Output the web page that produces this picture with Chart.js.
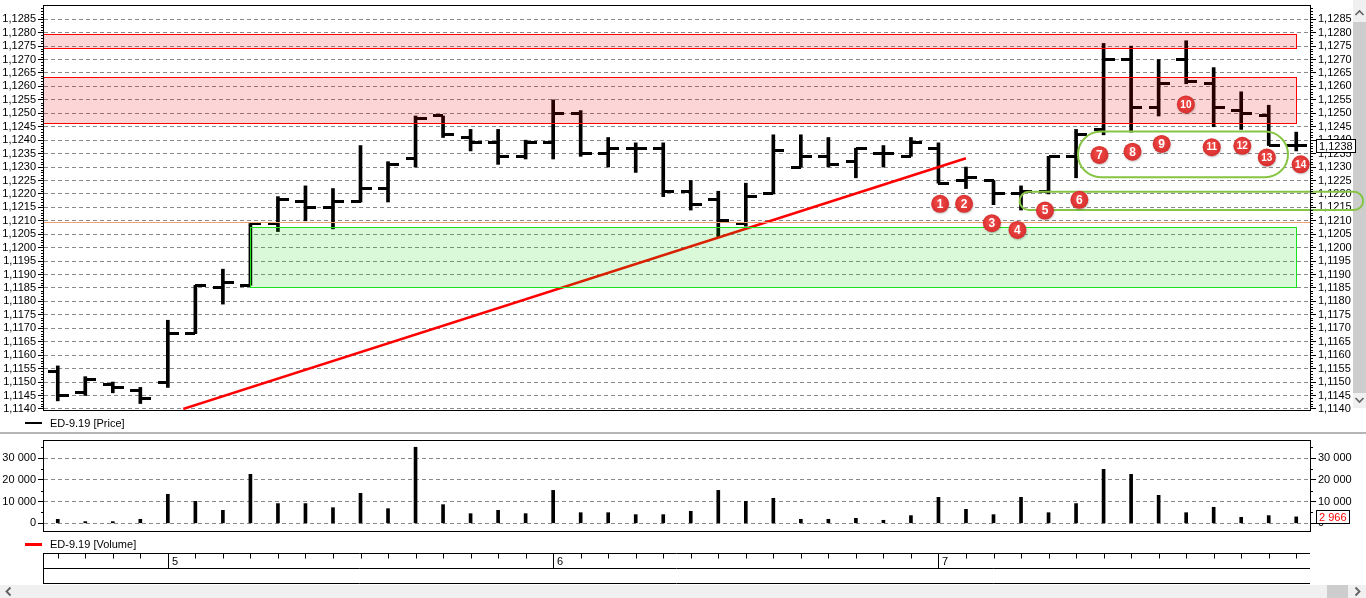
<!DOCTYPE html>
<html><head><meta charset="utf-8">
<script src="https://cdn.jsdelivr.net/npm/chart.js@4.4.1/dist/chart.umd.min.js"></script>
<style>
html,body{margin:0;padding:0;background:#fff;overflow:hidden;}
body{width:1366px;height:598px;position:relative;font-family:"Liberation Sans",Arial,sans-serif;}
.abs{position:absolute;}
#vs{left:1353px;top:0;width:13px;height:408px;background:#f0f0f0;}
#vthumb{left:1353px;top:22px;width:13px;height:371px;background:#cdcdcd;}
#hs{left:0;top:585px;width:1366px;height:13px;background:#f0f0f0;}
#hthumb{left:1327px;top:585px;width:21px;height:13px;background:#cdcdcd;}
#sep{left:0;top:432px;width:1366px;height:2px;background:#b4b4b4;}
#pw{left:0;top:0;width:1366px;height:432px;}
#vw{left:0;top:435px;width:1366px;height:163px;}
</style></head>
<body>
<div id="vs" class="abs"></div>
<div id="vthumb" class="abs"></div>
<svg class="abs" style="left:1353px;top:8px" width="13" height="10"><polyline points="2.5,7 6.5,3 10.5,7" fill="none" stroke="#606060" stroke-width="1.6"/></svg>
<svg class="abs" style="left:1353px;top:395px" width="13" height="10"><polyline points="2.5,3 6.5,7 10.5,3" fill="none" stroke="#606060" stroke-width="1.6"/></svg>
<div id="hs" class="abs"></div>
<div id="hthumb" class="abs"></div>
<svg class="abs" style="left:2px;top:585px" width="13" height="13"><polyline points="8.5,2.5 4.5,6.5 8.5,10.5" fill="none" stroke="#606060" stroke-width="1.8"/></svg>
<svg class="abs" style="left:1351px;top:585px" width="13" height="13"><polyline points="4.5,2.5 8.5,6.5 4.5,10.5" fill="none" stroke="#606060" stroke-width="1.8"/></svg>
<div id="sep" class="abs"></div>
<div id="pw" class="abs"><canvas id="pc" width="1366" height="432"></canvas></div>
<div id="vw" class="abs"><canvas id="vc" width="1366" height="163"></canvas></div>
<script>
// ---------------- data ----------------
const seriesName = 'ED-9.19';
const opens  = [1.1154,1.1146,1.1149,1.1147,1.1150,1.1168,1.1185,1.1186,1.1209,1.1217,1.1215,1.1217,1.1222,1.1233,1.1249,1.1241,1.1239,1.1234,1.1239,1.1250,1.1235,1.1237,1.1237,1.1221,1.1218,1.1209,1.1220,1.1230,1.1234,1.1232,1.1235,1.1234,1.1237,1.1225,1.1225,1.1220,1.1221,1.1234,1.1244,1.1270,1.1252,1.1270,1.1261,1.1251,1.1249,1.1238];
const highs  = [1.1156,1.1152,1.1150,1.1148,1.1173,1.1186,1.1192,1.1209,1.1219,1.1223,1.1222,1.1238,1.1232,1.1249,1.1249,1.1244,1.1244,1.1240,1.1255,1.1251,1.1241,1.1239,1.1239,1.1225,1.1221,1.1224,1.1242,1.1242,1.1241,1.1237,1.1238,1.1241,1.1239,1.1230,1.1225,1.1223,1.1234,1.1244,1.1276,1.1275,1.1270,1.1277,1.1267,1.1258,1.1253,1.1243];
const lows   = [1.1143,1.1145,1.1146,1.1142,1.1148,1.1168,1.1179,1.1186,1.1206,1.1210,1.1207,1.1217,1.1217,1.1230,1.1241,1.1236,1.1231,1.1233,1.1233,1.1234,1.1230,1.1228,1.1219,1.1214,1.1204,1.1208,1.1220,1.1230,1.1230,1.1226,1.1230,1.1234,1.1224,1.1222,1.1216,1.1214,1.1220,1.1226,1.1242,1.1243,1.1249,1.1261,1.1245,1.1244,1.1238,1.1236];
const closes = [1.1145,1.1151,1.1148,1.1144,1.1168,1.1186,1.1187,1.1209,1.1218,1.1215,1.1217,1.1222,1.1231,1.1248,1.1242,1.1239,1.1234,1.1239,1.1250,1.1235,1.1237,1.1237,1.1221,1.1216,1.1210,1.1219,1.1236,1.1234,1.1231,1.1237,1.1235,1.1239,1.1224,1.1226,1.1220,1.1221,1.1234,1.1242,1.1270,1.1252,1.1261,1.1262,1.1252,1.1250,1.1238,1.1238];
const volumes = [1850,770,770,1850,13400,10150,6000,22600,9100,9100,7200,13850,6750,35100,8600,4450,6000,4450,15200,4900,4900,4000,4000,5550,15200,10150,11550,1850,1850,2300,1400,3550,12000,6450,4000,12000,4900,9100,24900,22600,12900,4900,7400,2750,3550,2966];
const priceTicks = [1.1140,1.1145,1.1150,1.1155,1.1160,1.1165,1.1170,1.1175,1.1180,1.1185,1.1190,1.1195,1.1200,1.1205,1.1210,1.1215,1.1220,1.1225,1.1230,1.1235,1.1240,1.1245,1.1250,1.1255,1.1260,1.1265,1.1270,1.1275,1.1280,1.1285];
const volumeTicks = [0,10000,20000,30000];
const dayStarts = [4,18,32];
const dayLabels = ['5','6','7'];
const lastPrice = 1.1238;
const lastVolume = 2966;
// annotations, in data units: [x0, x1, yLow, yHigh]
const redZones = [[-1,45,1.12742,1.12794],[-1,45,1.12463,1.12634]];
const greenZone = [7,45,1.11855,1.12078];
const levelLine = 1.12097;
const trendLine = [[4.56,1.1140],[33.0,1.12333]];
const ovals = [[37.07,44.70,1.12262,1.12432],[34.95,47.43,1.12140,1.12208]];
const markers = [[32.06,1.12163],[32.93,1.12163],[33.94,1.12091],[34.87,1.12066],[35.87,1.12138],[37.12,1.12178],[37.85,1.12345],[39.05,1.12357],[40.11,1.12386],[40.99,1.12533],[41.93,1.12374],[43.04,1.12379],[43.93,1.12336],[45.16,1.12310]];

// ---------------- helpers ----------------
Chart.defaults.font.family = '"Liberation Sans", Arial, sans-serif';
Chart.defaults.font.size = 11;
Chart.defaults.color = '#000';
const FONT = '11px "Liberation Sans", Arial, sans-serif';
const fmtPrice = v => Number(v).toFixed(4).replace('.', ',');
const fmtVol = v => String(Math.round(v)).replace(/\B(?=(\d{3})+(?!\d))/g, ' ');
const idx = opens.map((_, i) => i);
const XMIN = -0.5, XMAX = opens.length - 0.5;

function tickImg(side) {
  const c = document.createElement('canvas');
  c.width = 24; c.height = 3;
  const g = c.getContext('2d');
  g.fillStyle = '#000';
  if (side === 'open') g.fillRect(2, 0, 10, 3); else g.fillRect(12, 0, 11, 3);
  return c;
}
const openImg = tickImg('open'), closeImg = tickImg('close');

function minorTicks(chart, ids, values, len) {
  const ctx = chart.ctx;
  ctx.save(); ctx.strokeStyle = '#000'; ctx.lineWidth = 1;
  ctx.beginPath();
  ids.forEach(id => {
    const s = chart.scales[id];
    values.forEach(v => {
      const y = Math.round(s.getPixelForValue(v)) + 0.5;
      if (y < chart.chartArea.top || y > chart.chartArea.bottom + 1) return;
      if (s.position === 'left') { ctx.moveTo(s.right - len, y); ctx.lineTo(s.right, y); }
      else { ctx.moveTo(s.left, y); ctx.lineTo(s.left + len, y); }
    });
  });
  ctx.stroke(); ctx.restore();
}
function frame(chart) {
  const a = chart.chartArea, ctx = chart.ctx;
  ctx.save(); ctx.strokeStyle = '#000'; ctx.lineWidth = 1;
  ctx.strokeRect(a.left - 0.5, a.top + 0.5, a.right - a.left + 1, a.bottom - a.top);
  ctx.restore();
}
function valueBox(chart, yPix, text, color) {
  const ctx = chart.ctx;
  const x = 1316, y = Math.round(yPix) - 7;
  ctx.save();
  ctx.font = FONT;
  const tw = Math.ceil(ctx.measureText(text).width) + 6;
  ctx.fillStyle = '#fff'; ctx.fillRect(x, y, tw, 14);
  ctx.strokeStyle = '#000'; ctx.lineWidth = 1; ctx.strokeRect(x + 0.5, y + 0.5, tw - 1, 13);
  ctx.fillStyle = color; ctx.textBaseline = 'middle'; ctx.textAlign = 'left';
  ctx.fillText(text, x + 3, y + 7.5);
  ctx.restore();
}
function legendRow(ctx, y, color, thick, text) {
  ctx.save();
  ctx.fillStyle = color; ctx.fillRect(25, Math.round(y - thick / 2), 17, thick);
  ctx.font = FONT; ctx.fillStyle = '#000'; ctx.textBaseline = 'middle'; ctx.textAlign = 'left';
  ctx.fillText(text, 50, y + 0.5);
  ctx.restore();
}
function roundRectPath(ctx, x, y, w, h, r) {
  ctx.beginPath();
  ctx.moveTo(x + r, y); ctx.lineTo(x + w - r, y); ctx.arc(x + w - r, y + r, r, -Math.PI / 2, Math.PI / 2);
  ctx.lineTo(x + r, y + h); ctx.arc(x + r, y + r, r, Math.PI / 2, Math.PI * 1.5); ctx.closePath();
}

const minorPrice = [];
for (let k = 11140; k <= 11290; k++) if (k % 5 !== 0) minorPrice.push(k / 10000);
const minorVol = [5000, 15000, 25000, 35000];

const fitAxis = w => s => { s.width = w; s.paddingTop = 0; s.paddingBottom = 0; };
const priceYAxis = (pos, w) => ({
  position: pos, min: 1.11396, max: 1.12903,
  afterBuildTicks: s => { s.ticks = priceTicks.map(v => ({ value: v })); },
  afterFit: fitAxis(w),
  ticks: { callback: v => fmtPrice(v), padding: 2, autoSkip: false, color: '#000', font: { size: 11 } },
  grid: { display: true, drawOnChartArea: pos === 'left', color: '#8a8a8a', tickColor: '#000', tickLength: 6, drawTicks: true, tickBorderDash: [] },
  border: { display: false, dash: [4, 3] }
});
const volYAxis = (pos, w) => ({
  position: pos, min: -3550, max: 38440,
  afterBuildTicks: s => { s.ticks = volumeTicks.map(v => ({ value: v })); },
  afterFit: fitAxis(w),
  ticks: { callback: v => fmtVol(v), padding: 2, autoSkip: false, color: '#000', font: { size: 11 } },
  grid: { display: true, drawOnChartArea: pos === 'left', color: '#8a8a8a', tickColor: '#000', tickLength: 6, drawTicks: true, tickBorderDash: [] },
  border: { display: false, dash: [4, 3] }
});
const xAxis = { type: 'linear', min: XMIN, max: XMAX, offset: false, display: false, grace: 0, bounds: 'data' };

// ---------------- price chart ----------------
const pricePlugin = {
  id: 'pricePlugin',
  beforeDatasetsDraw(chart) { chart.ctx.imageSmoothingEnabled = false; },
  afterDatasetsDraw(chart) {
    const ctx = chart.ctx, xs = chart.scales.x, ys = chart.scales.y, a = chart.chartArea;
    const X = v => xs.getPixelForValue(v), Y = v => ys.getPixelForValue(v);
    ctx.save();
    ctx.beginPath(); ctx.rect(a.left, a.top, a.right - a.left, a.bottom - a.top + 1); ctx.clip();
    ctx.strokeStyle = '#f0a070'; ctx.lineWidth = 1;
    const ly = Math.round(Y(levelLine)) + 0.5;
    ctx.beginPath(); ctx.moveTo(a.left, ly); ctx.lineTo(a.right, ly); ctx.stroke();
    const zone = (z, fill, stroke) => {
      const x0 = Math.round(X(z[0])) + 0.5, x1 = Math.round(X(z[1])) + 0.5;
      const y0 = Math.round(Y(z[3])) + 0.5, y1 = Math.round(Y(z[2])) + 0.5;
      ctx.fillStyle = fill; ctx.fillRect(x0, y0, x1 - x0, y1 - y0);
      ctx.strokeStyle = stroke; ctx.lineWidth = 1; ctx.strokeRect(x0, y0, x1 - x0, y1 - y0);
    };
    redZones.forEach(z => zone(z, 'rgba(235,0,0,0.16)', '#ff0000'));
    zone(greenZone, 'rgba(0,215,0,0.15)', '#1ee01e');
    ctx.restore();
    ctx.save();
    ctx.strokeStyle = '#86c544'; ctx.lineWidth = 2;
    ovals.forEach(o => {
      const x0 = X(o[0]), x1 = X(o[1]), y0 = Y(o[3]), y1 = Y(o[2]);
      roundRectPath(ctx, x0, y0, x1 - x0, y1 - y0, (y1 - y0) / 2); ctx.stroke();
    });
    markers.forEach((m, i) => {
      const cx = X(m[0]), cy = Y(m[1]), r = 9;
      ctx.save();
      ctx.shadowColor = 'rgba(0,0,0,0.25)'; ctx.shadowBlur = 2; ctx.shadowOffsetX = 0.5; ctx.shadowOffsetY = 1;
      const g = ctx.createRadialGradient(cx - 2, cy - 3, 1, cx, cy, r);
      g.addColorStop(0, '#f04a48'); g.addColorStop(1, '#d8302f');
      ctx.fillStyle = g; ctx.beginPath(); ctx.arc(cx, cy, r, 0, Math.PI * 2); ctx.fill();
      ctx.restore();
      const label = String(i + 1);
      ctx.fillStyle = '#fff'; ctx.textAlign = 'center'; ctx.textBaseline = 'middle';
      ctx.font = (label.length > 1 ? 'bold 10px' : 'bold 12px') + ' "Liberation Sans", Arial, sans-serif';
      ctx.fillText(label, cx, cy + 0.5);
    });
    ctx.restore();
  },
  afterDraw(chart) {
    frame(chart);
    minorTicks(chart, ['y', 'y2'], minorPrice, 3);
    const ctx = chart.ctx;
    ctx.font = FONT;
    valueBox(chart, chart.scales.y2.getPixelForValue(lastPrice), fmtPrice(lastPrice), '#000');
    legendRow(ctx, 423, '#000', 2, seriesName + ' [Price]');
  }
};

new Chart(document.getElementById('pc'), {
  type: 'bar',
  data: {
    datasets: [
      { type: 'bar', label: 'range', data: idx.map(i => ({ x: i, y: [lows[i], highs[i]] })), backgroundColor: '#000', barThickness: 3, order: 3 },
      { type: 'scatter', label: 'open', data: idx.map(i => ({ x: i, y: opens[i] })), pointStyle: openImg, pointRadius: 1, order: 2 },
      { type: 'scatter', label: 'close', data: idx.map(i => ({ x: i, y: closes[i] })), pointStyle: closeImg, pointRadius: 1, order: 2 },
      { type: 'line', label: 'trend', data: trendLine.map(p => ({ x: p[0], y: p[1] })), borderColor: '#ff0000', borderWidth: 2.5, pointRadius: 0, order: 1 }
    ]
  },
  options: {
    responsive: false, animation: false, events: [],
    layout: { padding: { top: 5, bottom: 22, left: 0, right: 0 } },
    plugins: { legend: { display: false }, tooltip: { enabled: false } },
    scales: { x: xAxis, y: priceYAxis('left', 44), y2: priceYAxis('right', 56) }
  },
  plugins: [pricePlugin]
});

// ---------------- volume chart ----------------
const volPlugin = {
  id: 'volPlugin',
  afterDraw(chart) {
    frame(chart);
    minorTicks(chart, ['y', 'y2'], minorVol, 3);
    const ctx = chart.ctx, xs = chart.scales.x;
    ctx.font = FONT;
    valueBox(chart, chart.scales.y2.getPixelForValue(lastVolume), fmtVol(lastVolume), '#ff0000');
    legendRow(ctx, 109, '#ff0000', 3, seriesName + ' [Volume]');
    const L = 43, R = 1310, t0 = 118.5, t1 = 133.5, t2 = 148.5;
    ctx.save();
    ctx.strokeStyle = '#000'; ctx.lineWidth = 1;
    ctx.beginPath();
    [t0, t1, t2].forEach(y => { ctx.moveTo(L, y); ctx.lineTo(R, y); });
    ctx.moveTo(L + 0.5, t0); ctx.lineTo(L + 0.5, t2);
    idx.forEach(i => {
      const x = Math.round(xs.getPixelForValue(i)) + 0.5;
      if (dayStarts.includes(i)) { ctx.moveTo(x, t0); ctx.lineTo(x, t1); }
      else { ctx.moveTo(x, t0); ctx.lineTo(x, t0 + 5); }
    });
    ctx.stroke();
    ctx.fillStyle = '#000'; ctx.font = FONT; ctx.textBaseline = 'middle'; ctx.textAlign = 'left';
    dayStarts.forEach((d, k) => {
      const x = Math.round(xs.getPixelForValue(d));
      ctx.fillText(dayLabels[k], x + 4, 126.5);
    });
    ctx.restore();
  }
};

new Chart(document.getElementById('vc'), {
  type: 'bar',
  data: {
    datasets: [
      { label: 'volume', data: idx.map(i => ({ x: i, y: volumes[i] })), backgroundColor: '#000', barThickness: 3 }
    ]
  },
  options: {
    responsive: false, animation: false, events: [],
    layout: { padding: { top: 5, bottom: 67, left: 0, right: 0 } },
    plugins: { legend: { display: false }, tooltip: { enabled: false } },
    scales: { x: xAxis, y: volYAxis('left', 44), y2: volYAxis('right', 56) }
  },
  plugins: [volPlugin]
});
</script>
</body></html>
